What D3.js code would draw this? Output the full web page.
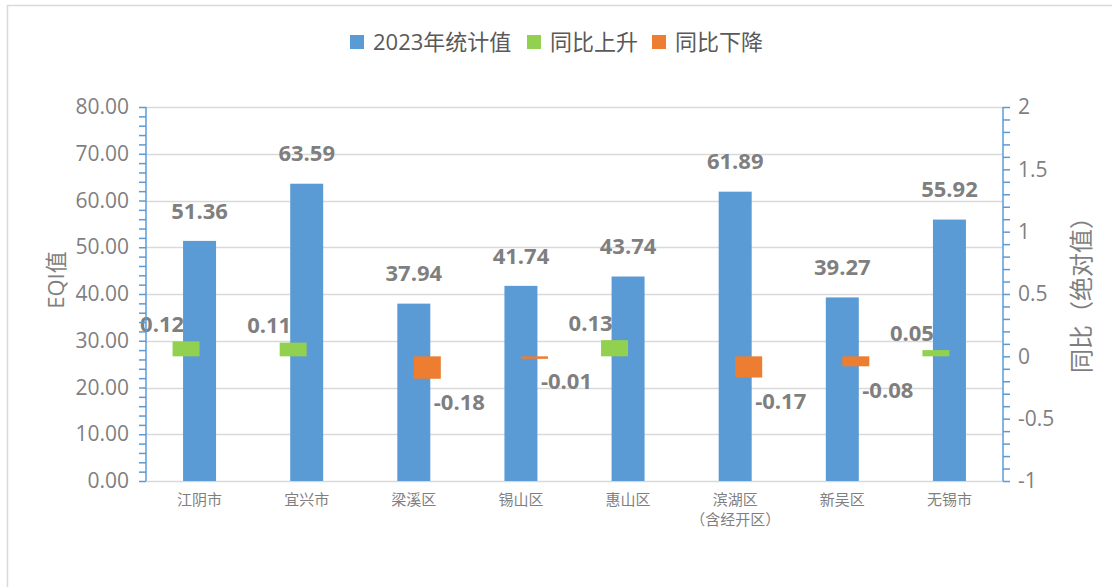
<!DOCTYPE html>
<html>
<head>
<meta charset="utf-8">
<title>EQI 2023</title>
<script src="https://d3js.org/d3.v7.min.js"></script>
<style>
  body { margin: 0; background: #fff; }
  svg text { font-family: "Open Sans", "Noto Sans CJK SC", sans-serif; }
</style>
</head>
<body>
<div id="chart"></div>
<script>
// data
var districts = ["江阴市", "宜兴市", "梁溪区", "锡山区", "惠山区", "滨湖区\n（含经开区）", "新吴区", "无锡市"];
var eqi2023 = [51.36, 63.59, 37.94, 41.74, 43.74, 61.89, 39.27, 55.92];
var yoyChange = [0.12, 0.11, -0.18, -0.01, 0.13, -0.17, -0.08, 0.05];
var leftTicks = [0, 10, 20, 30, 40, 50, 60, 70, 80];
var rightTicks = [-1, -0.5, 0, 0.5, 1, 1.5, 2];
var seriesNames = ["2023年统计值", "同比上升", "同比下降"];

var w = 1112, h = 587;
var blue = "#5b9bd5", green = "#92d050", orange = "#ed7d31";
var textGray = "#7f7f7f";

var svg = d3.select("#chart").append("svg")
  .attr("width", w).attr("height", h);

// chart border (only top/left visible in frame)
svg.append("rect")
  .attr("x", 7.5).attr("y", 5.5)
  .attr("width", w + 20).attr("height", h + 20)
  .attr("fill", "none").attr("stroke", "#d9d9d9").attr("stroke-width", 1.5);

var plotLeft = 146, plotRight = 1003, plotTop = 107, plotBottom = 481;

var x0 = d3.scaleBand().domain(districts).range([plotLeft, plotRight]);
var yL = d3.scaleLinear().domain([0, 80]).range([plotBottom, plotTop]);
var yR = d3.scaleLinear().domain([-1, 2]).range([plotBottom, plotTop]);
var x1 = d3.scaleBand().domain(["up", "down"]).range([-27, 27]);

// gridlines
svg.append("g").selectAll("line")
  .data(leftTicks).enter().append("line")
  .attr("x1", plotLeft).attr("x2", plotRight)
  .attr("y1", function(d) { return Math.round(yL(d)) + 0.5; })
  .attr("y2", function(d) { return Math.round(yL(d)) + 0.5; })
  .attr("stroke", "#d9d9d9").attr("stroke-width", 1.3);

// blue bars
var barW = 33;
svg.append("g").selectAll("rect")
  .data(eqi2023).enter().append("rect")
  .attr("x", function(d, i) { return x0(districts[i]) + x0.bandwidth() / 2 - barW / 2; })
  .attr("y", function(d) { return yL(d); })
  .attr("width", barW)
  .attr("height", function(d) { return yL(0) - yL(d); })
  .attr("fill", blue);

svg.append("g").selectAll("text")
  .data(eqi2023).enter().append("text")
  .attr("x", function(d, i) { return x0(districts[i]) + x0.bandwidth() / 2; })
  .attr("y", function(d) { return yL(d) - 30; })
  .attr("dy", "0.35em")
  .attr("text-anchor", "middle")
  .attr("font-size", 22).attr("font-weight", "bold")
  .attr("fill", textGray)
  .text(function(d) { return d.toFixed(2); });

// yoy bars (secondary axis)
var yoy = yoyChange.map(function(v, i) {
  return { cat: districts[i], v: v, s: v >= 0 ? "up" : "down" };
});
function yoyCx(d) { return x0(d.cat) + x0.bandwidth() / 2 + x1(d.s) + x1.bandwidth() / 2; }

svg.append("g").selectAll("rect")
  .data(yoy).enter().append("rect")
  .attr("x", function(d) { return x0(d.cat) + x0.bandwidth() / 2 + x1(d.s); })
  .attr("y", function(d) { return yR(Math.max(d.v, 0)); })
  .attr("width", x1.bandwidth())
  .attr("height", function(d) { return Math.max(Math.abs(yR(d.v) - yR(0)), 2.5); })
  .attr("fill", function(d) { return d.s == "up" ? green : orange; });

svg.append("g").selectAll("text")
  .data(yoy).enter().append("text")
  .attr("x", function(d) { return yoyCx(d) + (d.s == "up" ? -24 : 32); })
  .attr("y", function(d) { return d.s == "up" ? yR(d.v) - 17 : yR(d.v) + 24; })
  .attr("dy", "0.35em")
  .attr("text-anchor", "middle")
  .attr("font-size", 22).attr("font-weight", "bold")
  .attr("fill", textGray)
  .text(function(d) { return d.v.toFixed(2); });

// left axis
var axL = d3.axisLeft(yL)
  .tickValues(d3.range(0, 80.01, 2))
  .tickSize(7)
  .tickFormat(function(d) { return leftTicks.indexOf(d) >= 0 ? d.toFixed(2) : ""; });
var gL = svg.append("g").attr("transform", "translate(" + plotLeft + ",0)").call(axL);
gL.select(".domain").attr("stroke", blue).attr("stroke-width", 1.5).attr("d", "M0," + plotTop + "V" + plotBottom);
gL.selectAll(".tick line").attr("stroke", blue).attr("stroke-width", 1.5);
gL.selectAll(".tick text").attr("font-size", 21).attr("fill", textGray)
  .attr("x", -17).style("font-family", "'Open Sans', sans-serif");

// right axis
var axR = d3.axisRight(yR)
  .tickValues(d3.range(-10, 20.5, 1).map(function(d) { return d / 10; }))
  .tickSize(7)
  .tickFormat(function(d) {
    var r = Math.round(d * 10) / 10;
    return rightTicks.indexOf(r) >= 0 ? String(r) : "";
  });
var gR = svg.append("g").attr("transform", "translate(" + plotRight + ",0)").call(axR);
gR.select(".domain").attr("stroke", blue).attr("stroke-width", 1.5).attr("d", "M0," + plotTop + "V" + plotBottom);
gR.selectAll(".tick line").attr("stroke", blue).attr("stroke-width", 1.5);
gR.selectAll(".tick text").attr("font-size", 21).attr("fill", textGray)
  .attr("x", 15).style("font-family", "'Open Sans', sans-serif");

// category labels
var catG = svg.append("g");
districts.forEach(function(name, i) {
  var lines = name.split("\n");
  var t = catG.append("text")
    .attr("x", x0(name) + x0.bandwidth() / 2)
    .attr("y", 500)
    .attr("text-anchor", "middle")
    .attr("font-size", 15)
    .attr("fill", textGray)
    .style("font-family", "'Noto Sans CJK SC', sans-serif");
  lines.forEach(function(l, j) {
    t.append("tspan")
      .attr("x", x0(name) + x0.bandwidth() / 2)
      .attr("dy", j == 0 ? "0.35em" : "1.3em")
      .text(l);
  });
});

// axis titles
svg.append("text")
  .attr("transform", "translate(56,280) rotate(-90)")
  .attr("text-anchor", "middle").attr("dy", "0.35em")
  .attr("font-size", 22).attr("fill", textGray)
  .text("EQI值");

svg.append("text")
  .attr("transform", "translate(1082,289) rotate(-90)")
  .attr("text-anchor", "middle").attr("dy", "0.35em")
  .attr("font-size", 24).attr("fill", textGray)
  .style("font-family", "'Noto Sans CJK SC', sans-serif")
  .text("同比（绝对值）");

// legend
var legendColors = [blue, green, orange];
var legX = [350, 527, 652];
var leg = svg.append("g");
seriesNames.forEach(function(s, i) {
  leg.append("rect")
    .attr("x", legX[i]).attr("y", 35)
    .attr("width", 14).attr("height", 14)
    .attr("fill", legendColors[i]);
  leg.append("text")
    .attr("x", legX[i] + 23).attr("y", 42)
    .attr("dy", "0.35em")
    .attr("font-size", 22).attr("fill", "#595959")
    .text(s);
});
</script>
</body>
</html>
